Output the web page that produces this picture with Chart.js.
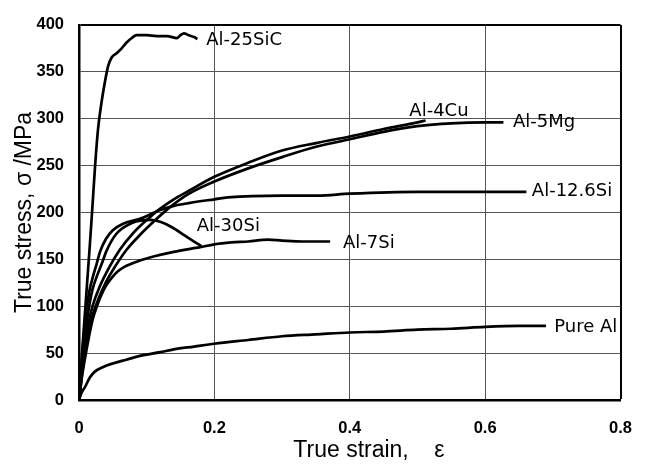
<!DOCTYPE html>
<html>
<head>
<meta charset="utf-8">
<script src="https://cdn.jsdelivr.net/npm/chart.js@4.4.1/dist/chart.umd.min.js"></script>
<style>
html,body{margin:0;padding:0;background:#fff;}
#wrap{width:651px;height:465px;}
</style>
</head>
<body>
<div id="wrap"><canvas id="c" width="651" height="465"></canvas></div>
<script>
// ---- data (strain, stress MPa) ----
const seriesNames = ["Al-25SiC","Al-4Cu","Al-5Mg","Al-12.6Si","Al-30Si","Al-7Si","Pure Al"];

const al25SiC = [[0,0],[0.005,55],[0.01,105],[0.016,165],[0.02,208],[0.024,252],[0.028,288],[0.033,316],[0.038,338],[0.043,356],[0.048,365],[0.056,370],[0.063,375],[0.07,381],[0.078,386],[0.085,389],[0.1,389],[0.115,388],[0.13,388],[0.145,386],[0.15,389],[0.155,391],[0.162,389],[0.17,387],[0.175,385]];

const al4Cu = [[0,0],[0.005,35],[0.01,62],[0.015,85],[0.02,100],[0.03,120],[0.045,142],[0.06,160],[0.08,178],[0.1,192],[0.118,203],[0.14,214],[0.162,223],[0.2,238],[0.25,253],[0.3,266],[0.35,274],[0.4,281],[0.45,289],[0.5,296],[0.512,298]];

const al5Mg = [[0,0],[0.005,30],[0.01,55],[0.015,75],[0.02,90],[0.03,110],[0.04,126],[0.053,142],[0.07,160],[0.09,176],[0.11,190],[0.13,203],[0.16,219],[0.2,233],[0.25,247],[0.3,259],[0.35,270],[0.4,278],[0.45,286],[0.5,292],[0.55,295],[0.6,296],[0.627,296]];

const al126Si = [[0,0],[0.005,50],[0.01,90],[0.015,115],[0.02,130],[0.026,145],[0.031,158],[0.04,172],[0.05,181],[0.065,188],[0.089,193],[0.118,202],[0.14,207],[0.162,210],[0.2,214],[0.22,216],[0.3,218],[0.352,218],[0.4,220],[0.5,222],[0.6,222],[0.661,222]];

const al30Si = [[0,0],[0.005,40],[0.01,75],[0.015,100],[0.02,118],[0.028,135],[0.035,148],[0.04,158],[0.055,177],[0.079,189],[0.106,192],[0.12,190],[0.138,184],[0.157,175],[0.17,169],[0.181,164]];

const al7Si = [[0,0],[0.005,28],[0.011,53],[0.016,72],[0.021,88],[0.027,101],[0.033,112],[0.04,122],[0.048,130],[0.057,137],[0.067,142],[0.08,146],[0.091,149],[0.11,153],[0.14,158],[0.179,163],[0.2,166],[0.225,168],[0.25,169],[0.279,171],[0.3,170],[0.33,169],[0.371,169]];

const pureAl = [[0,0],[0.004,8],[0.009,14],[0.016,24],[0.023,30],[0.035,35],[0.05,39],[0.07,43],[0.09,47],[0.12,51],[0.14,54],[0.17,57],[0.2,60],[0.25,64],[0.3,68],[0.35,70],[0.4,72],[0.45,73],[0.5,75],[0.55,76],[0.6,78],[0.65,79],[0.69,79]];

const allSeries = [al25SiC, al4Cu, al5Mg, al126Si, al30Si, al7Si, pureAl];

// label anchors (strain, stress) for the curve names
const labelX = [0.188, 0.488, 0.641, 0.669, 0.174, 0.390, 0.702];
const labelY = [384, 308, 296, 222, 185, 166.6, 77];

const xTicks = [0, 0.2, 0.4, 0.6, 0.8];
const yTicks = [0, 50, 100, 150, 200, 250, 300, 350, 400];

const datasets = allSeries.map((s, i) => ({
  label: seriesNames[i],
  data: s.map(p => ({x: p[0], y: p[1]})),
  showLine: true,
  borderColor: '#000',
  borderWidth: 2.7,
  pointRadius: 0,
  fill: false,
  cubicInterpolationMode: 'monotone'
}));

const curveLabels = {
  id: 'curveLabels',
  afterDatasetsDraw(chart) {
    const ctx = chart.ctx, xs = chart.scales.x, ys = chart.scales.y;
    ctx.save();
    ctx.fillStyle = '#000';
    ctx.font = '18px "DejaVu Sans"';
    ctx.textAlign = 'left';
    ctx.textBaseline = 'middle';
    seriesNames.forEach((n, i) => {
      ctx.fillText(n, xs.getPixelForValue(labelX[i]), ys.getPixelForValue(labelY[i]));
    });
    ctx.restore();
  }
};

new Chart(document.getElementById('c'), {
  type: 'scatter',
  data: { datasets },
  plugins: [curveLabels],
  options: {
    responsive: false,
    animation: false,
    devicePixelRatio: 1,
    layout: { padding: { top: 20, right: 24, left: 0, bottom: 0 } },
    plugins: { legend: { display: false }, tooltip: { enabled: false } },
    scales: {
      x: {
        type: 'linear', min: 0, max: 0.8,
        afterBuildTicks: s => { s.ticks = xTicks.map(v => ({value: v})); },
        afterFit: s => { s.height = 65; },
        ticks: {
          padding: 19, color: '#000',
          font: { family: '"Liberation Sans"', size: 16.5, weight: 'bold' },
          callback: v => String(v)
        },
        grid: {
          drawTicks: false,
          color: c => c.tick && c.tick.value === 0.8 ? '#000' : '#555',
          lineWidth: c => c.tick && c.tick.value === 0.8 ? 2 : 1
        },
        border: { color: '#000', width: 2.5 },
        title: {
          display: true, text: '      True strain,    ε', color: '#000',
          font: { family: '"Liberation Sans"', size: 23 },
          padding: { top: 0, bottom: 1 }
        }
      },
      y: {
        type: 'linear', min: 0, max: 400,
        afterBuildTicks: s => { s.ticks = yTicks.map(v => ({value: v})); },
        afterFit: s => { s.width = 79; },
        ticks: {
          padding: 15, color: '#000',
          font: { family: '"Liberation Sans"', size: 16.5, weight: 'bold' }
        },
        grid: {
          drawTicks: false,
          color: c => c.tick && c.tick.value === 400 ? '#000' : '#555',
          lineWidth: c => c.tick && c.tick.value === 400 ? 2 : 1
        },
        border: { color: '#000', width: 2.5 },
        title: {
          display: true, text: 'True stress, σ /MPa', color: '#000',
          font: { family: '"Liberation Sans"', size: 23 },
          padding: { top: 11, bottom: 0 }
        }
      }
    }
  }
});
</script>
</body>
</html>
